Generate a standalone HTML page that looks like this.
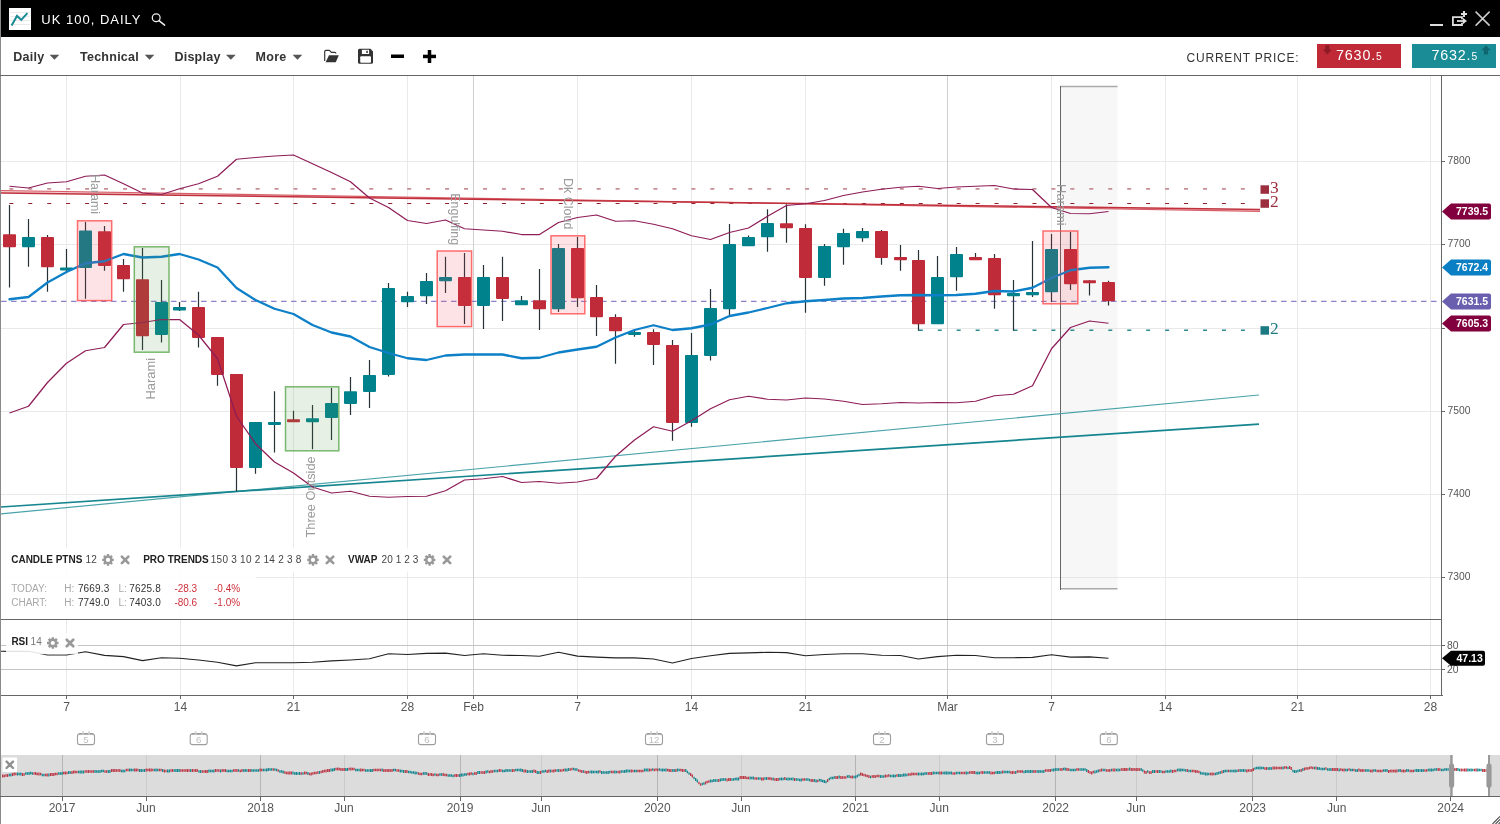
<!DOCTYPE html>
<html><head><meta charset="utf-8"><title>UK 100, DAILY</title>
<style>
html,body{margin:0;padding:0;background:#fff;}
body{width:1500px;height:824px;overflow:hidden;position:relative;font-family:"Liberation Sans",sans-serif;}
#tb{position:absolute;left:0;top:0;width:1500px;height:37px;background:#000;}
#tb .ttl{position:absolute;left:41.3px;top:11.5px;color:#fff;font-size:13px;letter-spacing:1.0px;line-height:16px;white-space:nowrap;}
#bar{position:absolute;left:0;top:37px;width:1500px;height:38px;background:#fff;}
.m{position:absolute;top:12px;font-weight:bold;font-size:12.5px;color:#333;line-height:16px;white-space:nowrap;letter-spacing:0.25px}
.arr{position:absolute;top:17.7px;width:0;height:0;border-left:4.9px solid transparent;border-right:4.9px solid transparent;border-top:5px solid #555;}
.cp{position:absolute;left:1186.5px;top:13px;font-size:12px;letter-spacing:0.8px;color:#333;line-height:16px;white-space:nowrap}
.pb{position:absolute;top:7px;height:24px;color:#fff;font-size:14.3px;line-height:24px;white-space:nowrap;letter-spacing:0.85px}
.pb small{font-size:10.3px;letter-spacing:0}
</style></head><body>
<div id="tb"><div class="ttl">UK 100, DAILY</div></div>
<div id="bar">
<div class="m" style="left:13.3px">Daily</div>
<div class="m" style="left:80px">Technical</div>
<div class="m" style="left:174.4px">Display</div>
<div class="m" style="left:255.6px">More</div>
<div class="cp">CURRENT PRICE:</div>
<div class="pb" style="left:1317px;width:84px;background:#c02a37"><span style="position:absolute;left:19px;top:-0.8px">7630.<small>5</small></span></div>
<div class="pb" style="left:1412px;width:84px;background:#1a8c96"><span style="position:absolute;left:19.4px;top:-0.8px">7632.<small>5</small></span></div>
</div>
<svg width="1500" height="76" viewBox="0 0 1500 76" style="position:absolute;left:0;top:0">
<rect x="9" y="8" width="22" height="22" fill="#fff"/>
<path d="M10,12.5h20M10,16.5h20M10,20.5h20M10,24.5h20" stroke="#e4e4e4" stroke-width="0.8"/>
<path d="M11.6,25.4 L17,15.9 L21.3,19.9 L27.4,13.2" fill="none" stroke="#1a8a94" stroke-width="2" stroke-linejoin="miter"/>
<circle cx="156.2" cy="17.8" r="3.9" fill="none" stroke="#eee" stroke-width="1.25"/><path d="M159,20.6 L164.6,25.1" stroke="#eee" stroke-width="1.5" stroke-linecap="round"/>
<rect x="1430" y="24" width="13" height="2" fill="#ddd"/>
<path d="M1462,19.3 V17.1 H1452.9 V25 H1462 V22.7" fill="none" stroke="#ddd" stroke-width="1.8"/>
<path d="M1457,21 h6.5" stroke="#ddd" stroke-width="1.8"/><path d="M1462.8,17.8 l4.2,3.2 l-4.2,3.2z" fill="#ddd"/>
<path d="M1464,10.9 v6 M1461,13.9 h6" stroke="#ddd" stroke-width="2"/>
<path d="M1475.6,11.6 L1489.6,25.6 M1489.6,11.6 L1475.6,25.6" stroke="#ccc" stroke-width="1.5"/>
<path d="M49.6,54.7 h9.7 l-4.85,5.1z" fill="#555"/><path d="M144.7,54.7 h9.7 l-4.85,5.1z" fill="#555"/><path d="M226,54.7 h9.7 l-4.85,5.1z" fill="#555"/><path d="M292.6,54.7 h9.7 l-4.85,5.1z" fill="#555"/>
<!-- folder -->
<path d="M324.7,61 V51.6 q0,-1.3 1.3,-1.3 h3.3 l2.2,2.1 h3.3 q1.1,0 1.1,1.2" fill="none" stroke="#333" stroke-width="1.15"/>
<path d="M329,55.2 h9.8 l-3,7.1 h-10.2z" fill="#333"/>
<!-- save -->
<path d="M359.5,48.7 h11 l2.5,2.8 v10.8 q0,1.5 -1.5,1.5 h-12 q-1.5,0 -1.5,-1.5 v-12.1 q0,-1.5 1.5,-1.5z" fill="#333"/>
<rect x="361.9" y="49.8" width="7.2" height="4.2" fill="#fff"/><rect x="366.3" y="50.8" width="1.5" height="2.2" fill="#333"/>
<rect x="360.2" y="56.2" width="10.8" height="6.6" rx="1" fill="#fff"/>
<rect x="391" y="54.5" width="13" height="3.5" fill="#000"/>
<rect x="423" y="54.7" width="13" height="3.5" fill="#000"/><rect x="427.75" y="50" width="3.5" height="13" fill="#000"/>
<path d="M1325.2,45.2 h4.2 v4.2 h2.4 l-4.5,5 l-4.5,-5 h2.4z" fill="#8e1a25"/>
<path d="M1483.9,54.6 h4.2 v-4.4 h2.5 l-4.6,-5 l-4.6,5 h2.5z" fill="#0e666e"/>
</svg>
<svg width="1500" height="824" viewBox="0 0 1500 824" style="position:absolute;left:0;top:0" font-family="Liberation Sans, sans-serif">
<g stroke="#e9e9e9" stroke-width="1" shape-rendering="crispEdges">
<line x1="1" y1="161.5" x2="1442" y2="161.5"/>
<line x1="1" y1="244.5" x2="1442" y2="244.5"/>
<line x1="1" y1="328.5" x2="1442" y2="328.5"/>
<line x1="1" y1="411.5" x2="1442" y2="411.5"/>
<line x1="1" y1="494.5" x2="1442" y2="494.5"/>
<line x1="1" y1="577.5" x2="1442" y2="577.5"/>
<line x1="66.5" y1="76" x2="66.5" y2="695"/>
<line x1="180.5" y1="76" x2="180.5" y2="695"/>
<line x1="293.5" y1="76" x2="293.5" y2="695"/>
<line x1="407.5" y1="76" x2="407.5" y2="695"/>
<line x1="577.5" y1="76" x2="577.5" y2="695"/>
<line x1="691.5" y1="76" x2="691.5" y2="695"/>
<line x1="805.5" y1="76" x2="805.5" y2="695"/>
<line x1="1051.5" y1="76" x2="1051.5" y2="695"/>
<line x1="1165.5" y1="76" x2="1165.5" y2="695"/>
<line x1="1297.5" y1="76" x2="1297.5" y2="695"/>
<line x1="1430.5" y1="76" x2="1430.5" y2="695"/>
</g>
<g stroke="#cfcfcf" stroke-width="1" shape-rendering="crispEdges">
<line x1="473.5" y1="76" x2="473.5" y2="695"/>
<line x1="947.5" y1="76" x2="947.5" y2="695"/>
</g>
<rect x="1061" y="86" width="56.5" height="503" fill="#f7f7f7"/>
<line x1="1060.5" y1="86.5" x2="1117.5" y2="86.5" stroke="#aaa" stroke-width="1.6"/>
<line x1="1060.5" y1="588.8" x2="1117.5" y2="588.8" stroke="#aaa" stroke-width="1.4"/>
<rect x="1060" y="86" width="1" height="503.5" fill="#666" shape-rendering="crispEdges"/>
<g stroke="#e6e6e6" stroke-width="1" shape-rendering="crispEdges">
<line x1="1061" y1="161.5" x2="1117.5" y2="161.5"/>
<line x1="1061" y1="244.5" x2="1117.5" y2="244.5"/>
<line x1="1061" y1="328.5" x2="1117.5" y2="328.5"/>
<line x1="1061" y1="411.5" x2="1117.5" y2="411.5"/>
<line x1="1061" y1="494.5" x2="1117.5" y2="494.5"/>
<line x1="1061" y1="577.5" x2="1117.5" y2="577.5"/>
</g>
<g stroke="#c4c4c4" stroke-width="1" shape-rendering="crispEdges"><line x1="1" y1="645.5" x2="1442" y2="645.5"/><line x1="1" y1="669.5" x2="1442" y2="669.5"/></g>
<line x1="1.1" y1="301.3" x2="1436.5" y2="301.3" stroke="#8a80cb" stroke-width="1.3" stroke-dasharray="5.4 4.6"/>
<line x1="9.3" y1="188.9" x2="1247" y2="188.9" stroke="#c68f95" stroke-width="1.9" stroke-dasharray="4 14.947" stroke-dashoffset="0"/>
<line x1="9.3" y1="203.55" x2="1247" y2="203.55" stroke="#8e1f2d" stroke-width="1.1" stroke-dasharray="4 14.947"/>
<line x1="918.8" y1="330.3" x2="1247" y2="330.3" stroke="#2a8c92" stroke-width="1.5" stroke-dasharray="4 14.947"/>
<polygon points="1,190.5 1260,211.3 1260,209.5 1,193" fill="rgba(215,80,90,0.3)"/>
<line x1="1" y1="190.5" x2="1260" y2="211.3" stroke="#d75c66" stroke-width="1.2"/>
<line x1="1" y1="193" x2="1260" y2="209.5" stroke="#c0313d" stroke-width="1.5"/>
<line x1="1" y1="513.8" x2="1259" y2="395" stroke="#4aa3aa" stroke-width="1.2"/>
<line x1="1" y1="507" x2="1259" y2="424.2" stroke="#15858f" stroke-width="1.7"/>
<g>
<rect x="8.9" y="205.00" width="1.2" height="82.50" fill="#263238"/>
<rect x="3.0" y="234.25" width="13" height="12.90" rx="0.8" fill="#bf2b38"/>
<rect x="27.9" y="219.00" width="1.2" height="47.75" fill="#263238"/>
<rect x="22.0" y="237.00" width="13" height="10.15" rx="0.8" fill="#00828c"/>
<rect x="46.9" y="235.00" width="1.2" height="56.75" fill="#263238"/>
<rect x="41.0" y="237.00" width="13" height="30.15" rx="0.8" fill="#bf2b38"/>
<rect x="65.9" y="249.00" width="1.2" height="22.00" fill="#263238"/>
<rect x="60.0" y="267.50" width="13" height="2.90" rx="0.8" fill="#00828c"/>
<rect x="84.9" y="222.00" width="1.2" height="76.75" fill="#263238"/>
<rect x="79.0" y="230.50" width="13" height="37.40" rx="0.8" fill="#00828c"/>
<rect x="103.9" y="226.00" width="1.2" height="44.75" fill="#263238"/>
<rect x="98.0" y="231.25" width="13" height="34.65" rx="0.8" fill="#bf2b38"/>
<rect x="122.9" y="259.00" width="1.2" height="32.75" fill="#263238"/>
<rect x="117.0" y="265.00" width="13" height="14.15" rx="0.8" fill="#bf2b38"/>
<rect x="141.9" y="248.00" width="1.2" height="102.00" fill="#263238"/>
<rect x="136.0" y="279.25" width="13" height="56.90" rx="0.8" fill="#bf2b38"/>
<rect x="160.9" y="280.00" width="1.2" height="62.50" fill="#263238"/>
<rect x="155.0" y="302.00" width="13" height="32.90" rx="0.8" fill="#00828c"/>
<rect x="178.9" y="302.00" width="1.2" height="9.00" fill="#263238"/>
<rect x="173.0" y="307.00" width="13" height="3.40" rx="0.8" fill="#00828c"/>
<rect x="197.9" y="291.75" width="1.2" height="55.75" fill="#263238"/>
<rect x="192.0" y="307.00" width="13" height="30.90" rx="0.8" fill="#bf2b38"/>
<rect x="216.9" y="337.00" width="1.2" height="48.75" fill="#263238"/>
<rect x="211.0" y="337.00" width="13" height="37.90" rx="0.8" fill="#bf2b38"/>
<rect x="235.9" y="374.00" width="1.2" height="117.25" fill="#263238"/>
<rect x="230.0" y="374.00" width="13" height="93.90" rx="0.8" fill="#bf2b38"/>
<rect x="254.9" y="422.00" width="1.2" height="51.75" fill="#263238"/>
<rect x="249.0" y="422.00" width="13" height="45.90" rx="0.8" fill="#00828c"/>
<rect x="273.9" y="391.25" width="1.2" height="61.25" fill="#263238"/>
<rect x="268.0" y="422.00" width="13" height="2.90" rx="0.8" fill="#00828c"/>
<rect x="292.9" y="410.75" width="1.2" height="11.00" fill="#263238"/>
<rect x="287.0" y="419.25" width="13" height="2.90" rx="0.8" fill="#bf2b38"/>
<rect x="311.9" y="405.00" width="1.2" height="44.25" fill="#263238"/>
<rect x="306.0" y="418.25" width="13" height="3.90" rx="0.8" fill="#00828c"/>
<rect x="330.9" y="388.00" width="1.2" height="52.00" fill="#263238"/>
<rect x="325.0" y="403.00" width="13" height="14.90" rx="0.8" fill="#00828c"/>
<rect x="349.9" y="377.00" width="1.2" height="38.00" fill="#263238"/>
<rect x="344.0" y="391.25" width="13" height="12.65" rx="0.8" fill="#00828c"/>
<rect x="368.9" y="360.00" width="1.2" height="48.00" fill="#263238"/>
<rect x="363.0" y="375.00" width="13" height="16.90" rx="0.8" fill="#00828c"/>
<rect x="387.9" y="283.00" width="1.2" height="93.50" fill="#263238"/>
<rect x="382.0" y="288.00" width="13" height="86.90" rx="0.8" fill="#00828c"/>
<rect x="406.9" y="291.75" width="1.2" height="15.25" fill="#263238"/>
<rect x="401.0" y="296.00" width="13" height="6.15" rx="0.8" fill="#00828c"/>
<rect x="425.9" y="273.00" width="1.2" height="31.00" fill="#263238"/>
<rect x="420.0" y="281.00" width="13" height="15.15" rx="0.8" fill="#00828c"/>
<rect x="444.9" y="256.75" width="1.2" height="36.25" fill="#263238"/>
<rect x="439.0" y="277.00" width="13" height="4.15" rx="0.8" fill="#00828c"/>
<rect x="463.9" y="253.00" width="1.2" height="71.00" fill="#263238"/>
<rect x="458.0" y="277.00" width="13" height="28.90" rx="0.8" fill="#bf2b38"/>
<rect x="482.9" y="265.00" width="1.2" height="64.00" fill="#263238"/>
<rect x="477.0" y="277.00" width="13" height="28.90" rx="0.8" fill="#00828c"/>
<rect x="501.9" y="256.75" width="1.2" height="64.25" fill="#263238"/>
<rect x="496.0" y="277.00" width="13" height="21.90" rx="0.8" fill="#bf2b38"/>
<rect x="520.9" y="296.00" width="1.2" height="9.00" fill="#263238"/>
<rect x="515.0" y="300.25" width="13" height="4.90" rx="0.8" fill="#00828c"/>
<rect x="538.9" y="269.00" width="1.2" height="61.00" fill="#263238"/>
<rect x="533.0" y="300.25" width="13" height="8.90" rx="0.8" fill="#bf2b38"/>
<rect x="557.9" y="244.00" width="1.2" height="68.00" fill="#263238"/>
<rect x="552.0" y="248.00" width="13" height="61.15" rx="0.8" fill="#00828c"/>
<rect x="576.9" y="237.00" width="1.2" height="70.00" fill="#263238"/>
<rect x="571.0" y="248.00" width="13" height="50.15" rx="0.8" fill="#bf2b38"/>
<rect x="595.9" y="285.00" width="1.2" height="51.00" fill="#263238"/>
<rect x="590.0" y="297.00" width="13" height="20.15" rx="0.8" fill="#bf2b38"/>
<rect x="614.9" y="314.25" width="1.2" height="49.50" fill="#263238"/>
<rect x="609.0" y="317.00" width="13" height="14.15" rx="0.8" fill="#bf2b38"/>
<rect x="633.9" y="330.00" width="1.2" height="6.75" fill="#263238"/>
<rect x="628.0" y="332.00" width="13" height="2.90" rx="0.8" fill="#00828c"/>
<rect x="652.9" y="329.25" width="1.2" height="35.75" fill="#263238"/>
<rect x="647.0" y="332.00" width="13" height="12.90" rx="0.8" fill="#bf2b38"/>
<rect x="671.9" y="340.00" width="1.2" height="100.75" fill="#263238"/>
<rect x="666.0" y="345.00" width="13" height="77.90" rx="0.8" fill="#bf2b38"/>
<rect x="690.9" y="333.00" width="1.2" height="93.75" fill="#263238"/>
<rect x="685.0" y="355.00" width="13" height="67.90" rx="0.8" fill="#00828c"/>
<rect x="709.9" y="289.00" width="1.2" height="71.50" fill="#263238"/>
<rect x="704.0" y="308.00" width="13" height="47.90" rx="0.8" fill="#00828c"/>
<rect x="728.9" y="224.00" width="1.2" height="91.75" fill="#263238"/>
<rect x="723.0" y="244.00" width="13" height="65.15" rx="0.8" fill="#00828c"/>
<rect x="747.9" y="235.50" width="1.2" height="10.25" fill="#263238"/>
<rect x="742.0" y="237.00" width="13" height="9.15" rx="0.8" fill="#00828c"/>
<rect x="766.9" y="209.25" width="1.2" height="42.50" fill="#263238"/>
<rect x="761.0" y="223.00" width="13" height="14.15" rx="0.8" fill="#00828c"/>
<rect x="785.9" y="204.25" width="1.2" height="38.50" fill="#263238"/>
<rect x="780.0" y="223.25" width="13" height="4.90" rx="0.8" fill="#bf2b38"/>
<rect x="804.9" y="224.25" width="1.2" height="88.50" fill="#263238"/>
<rect x="799.0" y="228.00" width="13" height="49.90" rx="0.8" fill="#bf2b38"/>
<rect x="823.9" y="244.00" width="1.2" height="41.75" fill="#263238"/>
<rect x="818.0" y="246.00" width="13" height="31.90" rx="0.8" fill="#00828c"/>
<rect x="842.9" y="228.75" width="1.2" height="36.00" fill="#263238"/>
<rect x="837.0" y="233.00" width="13" height="14.15" rx="0.8" fill="#00828c"/>
<rect x="861.9" y="228.00" width="1.2" height="13.75" fill="#263238"/>
<rect x="856.0" y="231.00" width="13" height="7.15" rx="0.8" fill="#00828c"/>
<rect x="880.9" y="230.00" width="1.2" height="34.75" fill="#263238"/>
<rect x="875.0" y="231.00" width="13" height="26.90" rx="0.8" fill="#bf2b38"/>
<rect x="899.9" y="245.00" width="1.2" height="25.75" fill="#263238"/>
<rect x="894.0" y="257.00" width="13" height="3.15" rx="0.8" fill="#bf2b38"/>
<rect x="917.9" y="250.00" width="1.2" height="80.75" fill="#263238"/>
<rect x="912.0" y="260.00" width="13" height="64.15" rx="0.8" fill="#bf2b38"/>
<rect x="936.9" y="256.00" width="1.2" height="67.75" fill="#263238"/>
<rect x="931.0" y="277.00" width="13" height="47.15" rx="0.8" fill="#00828c"/>
<rect x="955.9" y="247.00" width="1.2" height="43.75" fill="#263238"/>
<rect x="950.0" y="254.00" width="13" height="23.15" rx="0.8" fill="#00828c"/>
<rect x="974.9" y="253.00" width="1.2" height="6.75" fill="#263238"/>
<rect x="969.0" y="257.00" width="13" height="3.15" rx="0.8" fill="#bf2b38"/>
<rect x="993.9" y="254.00" width="1.2" height="54.75" fill="#263238"/>
<rect x="988.0" y="258.00" width="13" height="37.15" rx="0.8" fill="#bf2b38"/>
<rect x="1012.9" y="280.00" width="1.2" height="50.75" fill="#263238"/>
<rect x="1007.0" y="293.00" width="13" height="3.15" rx="0.8" fill="#00828c"/>
<rect x="1031.9" y="241.00" width="1.2" height="56.00" fill="#263238"/>
<rect x="1026.0" y="292.00" width="13" height="3.15" rx="0.8" fill="#00828c"/>
<rect x="1050.9" y="234.00" width="1.2" height="68.00" fill="#263238"/>
<rect x="1045.0" y="249.00" width="13" height="43.15" rx="0.8" fill="#00828c"/>
<rect x="1069.9" y="232.00" width="1.2" height="58.00" fill="#263238"/>
<rect x="1064.0" y="249.00" width="13" height="35.15" rx="0.8" fill="#bf2b38"/>
<rect x="1088.9" y="280.25" width="1.2" height="15.25" fill="#263238"/>
<rect x="1083.0" y="280.25" width="13" height="2.90" rx="0.8" fill="#bf2b38"/>
<rect x="1107.9" y="280.75" width="1.2" height="24.75" fill="#263238"/>
<rect x="1102.0" y="282.00" width="13" height="19.15" rx="0.8" fill="#bf2b38"/>
</g>
<polyline points="9.5,186.25 28.5,188.00 47.5,183.00 66.5,181.75 85.5,176.25 104.5,175.00 123.5,183.75 142.5,193.00 161.5,194.50 179.5,188.75 198.5,183.75 217.5,176.25 236.5,159.25 255.5,157.50 274.5,156.00 293.5,155.00 312.5,163.75 331.5,172.50 350.5,181.75 369.5,198.00 388.5,207.50 407.5,220.50 426.5,223.50 445.5,220.00 464.5,228.75 483.5,230.00 502.5,231.25 521.5,234.50 539.5,234.50 558.5,222.50 577.5,217.50 596.5,215.00 615.5,221.25 634.5,220.75 653.5,224.25 672.5,228.75 691.5,235.75 710.5,239.50 729.5,232.50 748.5,228.00 767.5,216.25 786.5,205.50 805.5,203.75 824.5,200.50 843.5,195.50 862.5,192.00 881.5,189.25 900.5,187.25 918.5,186.25 937.5,188.50 956.5,187.00 975.5,186.25 994.5,185.50 1013.5,189.00 1032.5,189.50 1051.5,207.50 1070.5,213.50 1089.5,213.75 1108.5,211.50" fill="none" stroke="#8e1c57" stroke-width="1.25" stroke-linejoin="round"/>
<polyline points="9.5,413.00 28.5,406.25 47.5,382.50 66.5,363.25 85.5,350.75 104.5,347.50 123.5,324.50 142.5,322.50 161.5,319.50 179.5,319.50 198.5,335.00 217.5,358.75 236.5,416.25 255.5,443.75 274.5,462.00 293.5,473.00 312.5,487.00 331.5,493.00 350.5,491.25 369.5,496.25 388.5,497.25 407.5,496.50 426.5,496.25 445.5,490.75 464.5,480.00 483.5,478.75 502.5,476.50 521.5,482.50 539.5,481.50 558.5,483.25 577.5,482.00 596.5,478.50 615.5,456.25 634.5,440.00 653.5,426.75 672.5,431.25 691.5,420.75 710.5,408.75 729.5,399.75 748.5,396.25 767.5,399.25 786.5,400.00 805.5,398.00 824.5,399.00 843.5,401.25 862.5,404.50 881.5,403.75 900.5,402.50 918.5,403.00 937.5,402.50 956.5,402.75 975.5,401.25 994.5,395.75 1013.5,394.25 1032.5,385.75 1051.5,348.75 1070.5,327.50 1089.5,321.00 1108.5,323.25" fill="none" stroke="#8e1c57" stroke-width="1.25" stroke-linejoin="round"/>
<polyline points="9.5,299.25 28.5,297.00 47.5,282.50 66.5,272.00 85.5,263.25 104.5,261.25 123.5,254.00 142.5,257.50 161.5,256.75 179.5,254.00 198.5,259.50 217.5,267.50 236.5,288.00 255.5,300.00 274.5,308.75 293.5,314.00 312.5,325.00 331.5,332.50 350.5,336.50 369.5,347.00 388.5,353.00 407.5,358.25 426.5,360.00 445.5,355.50 464.5,354.50 483.5,354.50 502.5,354.50 521.5,358.25 539.5,357.75 558.5,352.50 577.5,349.50 596.5,346.75 615.5,337.50 634.5,330.00 653.5,325.25 672.5,330.00 691.5,328.25 710.5,324.50 729.5,316.00 748.5,312.50 767.5,308.00 786.5,303.25 805.5,301.25 824.5,300.00 843.5,298.50 862.5,298.00 881.5,296.50 900.5,295.25 918.5,295.00 937.5,295.25 956.5,295.00 975.5,293.75 994.5,291.00 1013.5,291.50 1032.5,287.75 1051.5,278.00 1070.5,270.25 1089.5,267.75 1108.5,267.25" fill="none" stroke="#0d80c8" stroke-width="2.3" stroke-linejoin="round" stroke-linecap="round"/>
<rect x="77.5" y="220.8" width="34.2" height="79.8" fill="rgba(241,68,82,0.15)" stroke="rgba(255,75,75,0.8)" stroke-width="1.5"/>
<rect x="437.2" y="251" width="34.4" height="75.6" fill="rgba(241,68,82,0.15)" stroke="rgba(255,75,75,0.8)" stroke-width="1.5"/>
<rect x="551" y="235.8" width="33.8" height="78.0" fill="rgba(241,68,82,0.15)" stroke="rgba(255,75,75,0.8)" stroke-width="1.5"/>
<rect x="1043" y="231" width="34.8" height="72.8" fill="rgba(241,68,82,0.15)" stroke="rgba(255,75,75,0.8)" stroke-width="1.5"/>
<rect x="134.3" y="246.8" width="34.7" height="105.4" fill="rgba(88,155,75,0.15)" stroke="rgba(100,172,88,0.85)" stroke-width="1.5"/>
<rect x="285.5" y="386.8" width="53.3" height="64.0" fill="rgba(88,155,75,0.15)" stroke="rgba(100,172,88,0.85)" stroke-width="1.5"/>
<text transform="translate(90.6,174.2) rotate(90)" font-size="13" fill="#9a9a9a" textLength="39.8" lengthAdjust="spacingAndGlyphs">Harami</text>
<text transform="translate(450.8,193.3) rotate(90)" font-size="13" fill="#9a9a9a" textLength="51.8" lengthAdjust="spacingAndGlyphs">Engulfing</text>
<text transform="translate(563.5,178) rotate(90)" font-size="13" fill="#9a9a9a" textLength="51.5" lengthAdjust="spacingAndGlyphs">Dk Cloud</text>
<text transform="translate(1056.8,184.1) rotate(90)" font-size="13" fill="#9a9a9a" textLength="41.6" lengthAdjust="spacingAndGlyphs">Harami</text>
<text transform="translate(155.3,399.5) rotate(-90)" font-size="13" fill="#9a9a9a" textLength="41.5" lengthAdjust="spacingAndGlyphs">Harami</text>
<text transform="translate(315.3,537.5) rotate(-90)" font-size="13" fill="#9a9a9a" textLength="81.2" lengthAdjust="spacingAndGlyphs">Three Outside</text>
<rect x="1260.5" y="185.3" width="8.5" height="8.5" fill="#9c2f3f"/>
<text x="1270" y="193.3" font-family="Liberation Serif, serif" font-size="17.4" fill="#9c2f3f">3</text>
<rect x="1260.5" y="199.3" width="8.5" height="8.5" fill="#9c2f3f"/>
<text x="1270" y="207.3" font-family="Liberation Serif, serif" font-size="17.4" fill="#9c2f3f">2</text>
<rect x="1260.5" y="326.2" width="8.5" height="8.5" fill="#1c7a82"/>
<text x="1270" y="334.2" font-family="Liberation Serif, serif" font-size="17.4" fill="#1c7a82">2</text>
<rect x="1" y="547.5" width="455" height="25" fill="rgba(255,255,255,0.88)"/>
<rect x="1" y="572.5" width="255" height="46.5" fill="rgba(255,255,255,0.88)"/>
<polyline points="1,651.2 9.5,651.40 28.5,651.20 47.5,655.00 66.5,655.00 85.5,651.80 104.5,655.40 123.5,656.60 142.5,660.60 161.5,657.70 179.5,658.20 198.5,660.00 217.5,662.20 236.5,665.90 255.5,662.70 274.5,662.70 293.5,662.70 312.5,662.20 331.5,660.90 350.5,660.00 369.5,658.70 388.5,653.70 407.5,654.50 426.5,653.40 445.5,653.10 464.5,655.50 483.5,653.70 502.5,655.30 521.5,655.50 539.5,656.30 558.5,652.30 577.5,656.10 596.5,657.10 615.5,657.90 634.5,657.90 653.5,659.00 672.5,663.00 691.5,658.50 710.5,655.80 729.5,653.40 748.5,652.90 767.5,652.30 786.5,652.60 805.5,655.80 824.5,654.50 843.5,653.70 862.5,653.70 881.5,655.30 900.5,655.50 918.5,659.00 937.5,656.60 956.5,655.30 975.5,655.50 994.5,657.70 1013.5,657.70 1032.5,657.40 1051.5,654.70 1070.5,657.10 1089.5,656.90 1108.5,658.20" fill="none" stroke="#222" stroke-width="1.1" stroke-linejoin="round"/>
<rect x="6" y="633" width="72" height="21.2" fill="rgba(255,255,255,0.87)"/>
<path d="M112.20,558.60 L113.78,558.73 L113.78,561.07 L112.20,561.20 L111.89,561.95 L112.92,563.16 L111.26,564.82 L110.05,563.79 L109.30,564.10 L109.17,565.68 L106.83,565.68 L106.70,564.10 L105.95,563.79 L104.74,564.82 L103.08,563.16 L104.11,561.95 L103.80,561.20 L102.22,561.07 L102.22,558.73 L103.80,558.60 L104.11,557.85 L103.08,556.64 L104.74,554.98 L105.95,556.01 L106.70,555.70 L106.83,554.12 L109.17,554.12 L109.30,555.70 L110.05,556.01 L111.26,554.98 L112.92,556.64 L111.89,557.85Z M110.10,559.90 A2.1,2.1 0 1,0 105.90,559.90 A2.1,2.1 0 1,0 110.10,559.90Z" fill="#999" fill-rule="evenodd"/>
<path d="M121.85,556.65 L128.35,563.15 M128.35,556.65 L121.85,563.15" stroke="#999" stroke-width="2.7" stroke-linecap="round" fill="none"/>
<path d="M317.20,558.60 L318.78,558.73 L318.78,561.07 L317.20,561.20 L316.89,561.95 L317.92,563.16 L316.26,564.82 L315.05,563.79 L314.30,564.10 L314.17,565.68 L311.83,565.68 L311.70,564.10 L310.95,563.79 L309.74,564.82 L308.08,563.16 L309.11,561.95 L308.80,561.20 L307.22,561.07 L307.22,558.73 L308.80,558.60 L309.11,557.85 L308.08,556.64 L309.74,554.98 L310.95,556.01 L311.70,555.70 L311.83,554.12 L314.17,554.12 L314.30,555.70 L315.05,556.01 L316.26,554.98 L317.92,556.64 L316.89,557.85Z M315.10,559.90 A2.1,2.1 0 1,0 310.90,559.90 A2.1,2.1 0 1,0 315.10,559.90Z" fill="#999" fill-rule="evenodd"/>
<path d="M326.75,556.65 L333.25,563.15 M333.25,556.65 L326.75,563.15" stroke="#999" stroke-width="2.7" stroke-linecap="round" fill="none"/>
<path d="M433.80,558.60 L435.38,558.73 L435.38,561.07 L433.80,561.20 L433.49,561.95 L434.52,563.16 L432.86,564.82 L431.65,563.79 L430.90,564.10 L430.77,565.68 L428.43,565.68 L428.30,564.10 L427.55,563.79 L426.34,564.82 L424.68,563.16 L425.71,561.95 L425.40,561.20 L423.82,561.07 L423.82,558.73 L425.40,558.60 L425.71,557.85 L424.68,556.64 L426.34,554.98 L427.55,556.01 L428.30,555.70 L428.43,554.12 L430.77,554.12 L430.90,555.70 L431.65,556.01 L432.86,554.98 L434.52,556.64 L433.49,557.85Z M431.70,559.90 A2.1,2.1 0 1,0 427.50,559.90 A2.1,2.1 0 1,0 431.70,559.90Z" fill="#999" fill-rule="evenodd"/>
<path d="M443.75,556.65 L450.25,563.15 M450.25,556.65 L443.75,563.15" stroke="#999" stroke-width="2.7" stroke-linecap="round" fill="none"/>
<path d="M57.00,641.70 L58.58,641.83 L58.58,644.17 L57.00,644.30 L56.69,645.05 L57.72,646.26 L56.06,647.92 L54.85,646.89 L54.10,647.20 L53.97,648.78 L51.63,648.78 L51.50,647.20 L50.75,646.89 L49.54,647.92 L47.88,646.26 L48.91,645.05 L48.60,644.30 L47.02,644.17 L47.02,641.83 L48.60,641.70 L48.91,640.95 L47.88,639.74 L49.54,638.08 L50.75,639.11 L51.50,638.80 L51.63,637.22 L53.97,637.22 L54.10,638.80 L54.85,639.11 L56.06,638.08 L57.72,639.74 L56.69,640.95Z M54.90,643.00 A2.1,2.1 0 1,0 50.70,643.00 A2.1,2.1 0 1,0 54.90,643.00Z" fill="#999" fill-rule="evenodd"/>
<path d="M66.75,639.75 L73.25,646.25 M73.25,639.75 L66.75,646.25" stroke="#999" stroke-width="2.7" stroke-linecap="round" fill="none"/>
<text x="11.2" y="563" font-size="10" fill="#222" font-weight="bold" text-anchor="start" >CANDLE PTNS</text>
<text x="85.6" y="563" font-size="10" fill="#444" font-weight="normal" text-anchor="start" >12</text>
<text x="143.2" y="563" font-size="10" fill="#222" font-weight="bold" text-anchor="start" >PRO TRENDS</text>
<text x="210.8" y="563" font-size="10" fill="#444" font-weight="normal" text-anchor="start" textLength="90.6" lengthAdjust="spacing">150 3 10 2 14 2 3 8</text>
<text x="348" y="563" font-size="10" fill="#222" font-weight="bold" text-anchor="start" >VWAP</text>
<text x="381.6" y="563" font-size="10" fill="#444" font-weight="normal" text-anchor="start" textLength="36.8" lengthAdjust="spacing">20 1 2 3</text>
<text x="11.2" y="592.1" font-size="10" fill="#a8a8a8" font-weight="normal" text-anchor="start" >TODAY:</text>
<text x="64.3" y="592.1" font-size="10" fill="#a8a8a8" font-weight="normal" text-anchor="start" >H:</text>
<text x="77.9" y="592.1" font-size="10" fill="#333" font-weight="normal" text-anchor="start" textLength="31.4" lengthAdjust="spacing">7669.3</text>
<text x="118.4" y="592.1" font-size="10" fill="#a8a8a8" font-weight="normal" text-anchor="start" >L:</text>
<text x="129.3" y="592.1" font-size="10" fill="#333" font-weight="normal" text-anchor="start" textLength="31.4" lengthAdjust="spacing">7625.8</text>
<text x="174.4" y="592.1" font-size="10" fill="#d0313d" font-weight="normal" text-anchor="start" >-28.3</text>
<text x="214" y="592.1" font-size="10" fill="#d0313d" font-weight="normal" text-anchor="start" >-0.4%</text>
<text x="11.2" y="606.2" font-size="10" fill="#a8a8a8" font-weight="normal" text-anchor="start" >CHART:</text>
<text x="64.3" y="606.2" font-size="10" fill="#a8a8a8" font-weight="normal" text-anchor="start" >H:</text>
<text x="77.9" y="606.2" font-size="10" fill="#333" font-weight="normal" text-anchor="start" textLength="31.4" lengthAdjust="spacing">7749.0</text>
<text x="118.4" y="606.2" font-size="10" fill="#a8a8a8" font-weight="normal" text-anchor="start" >L:</text>
<text x="129.3" y="606.2" font-size="10" fill="#333" font-weight="normal" text-anchor="start" textLength="31.4" lengthAdjust="spacing">7403.0</text>
<text x="174.4" y="606.2" font-size="10" fill="#d0313d" font-weight="normal" text-anchor="start" >-80.6</text>
<text x="214" y="606.2" font-size="10" fill="#d0313d" font-weight="normal" text-anchor="start" >-1.0%</text>
<text x="11.4" y="644.7" font-size="10" fill="#222" font-weight="bold" text-anchor="start" >RSI</text>
<text x="30.6" y="644.7" font-size="10" fill="#777" font-weight="normal" text-anchor="start" >14</text>
<g fill="#666" shape-rendering="crispEdges">
<rect x="0" y="0" width="1.3" height="824" fill="#8a8a8a"/>
<rect x="0" y="75" width="1500" height="1" fill="#666"/>
<rect x="1441" y="76" width="1" height="620"/>
<rect x="1" y="619" width="1441" height="1"/>
<rect x="1" y="695" width="1441.5" height="1"/>
<rect x="1442" y="161.0" width="3" height="1"/>
<rect x="1442" y="244.0" width="3" height="1"/>
<rect x="1442" y="328.0" width="3" height="1"/>
<rect x="1442" y="411.0" width="3" height="1"/>
<rect x="1442" y="494.0" width="3" height="1"/>
<rect x="1442" y="577.0" width="3" height="1"/>
<rect x="1442" y="645.0" width="3" height="1"/>
<rect x="1442" y="669.0" width="3" height="1"/>
<rect x="66.0" y="696" width="1" height="3"/>
<rect x="180.0" y="696" width="1" height="3"/>
<rect x="293.0" y="696" width="1" height="3"/>
<rect x="407.0" y="696" width="1" height="3"/>
<rect x="577.0" y="696" width="1" height="3"/>
<rect x="691.0" y="696" width="1" height="3"/>
<rect x="805.0" y="696" width="1" height="3"/>
<rect x="1051.0" y="696" width="1" height="3"/>
<rect x="1165.0" y="696" width="1" height="3"/>
<rect x="1297.0" y="696" width="1" height="3"/>
<rect x="1430.0" y="696" width="1" height="3"/>
<rect x="473.0" y="696" width="1" height="3"/>
<rect x="947.0" y="696" width="1" height="3"/>
</g>
<text x="1447.5" y="164.3" font-size="10.3" fill="#555" font-weight="normal" text-anchor="start" >7800</text>
<text x="1447.5" y="247.3" font-size="10.3" fill="#555" font-weight="normal" text-anchor="start" >7700</text>
<text x="1447.5" y="414.3" font-size="10.3" fill="#555" font-weight="normal" text-anchor="start" >7500</text>
<text x="1447.5" y="497.3" font-size="10.3" fill="#555" font-weight="normal" text-anchor="start" >7400</text>
<text x="1447.5" y="580.3" font-size="10.3" fill="#555" font-weight="normal" text-anchor="start" >7300</text>
<text x="1447" y="648.6" font-size="10.3" fill="#555" font-weight="normal" text-anchor="start" >80</text>
<text x="1447" y="672.6" font-size="10.3" fill="#555" font-weight="normal" text-anchor="start" >20</text>
<text x="66.5" y="711.3" font-size="12" fill="#555" font-weight="normal" text-anchor="middle" >7</text>
<text x="180.5" y="711.3" font-size="12" fill="#555" font-weight="normal" text-anchor="middle" >14</text>
<text x="293.5" y="711.3" font-size="12" fill="#555" font-weight="normal" text-anchor="middle" >21</text>
<text x="407.5" y="711.3" font-size="12" fill="#555" font-weight="normal" text-anchor="middle" >28</text>
<text x="473.5" y="711.3" font-size="12" fill="#555" font-weight="normal" text-anchor="middle" >Feb</text>
<text x="577.5" y="711.3" font-size="12" fill="#555" font-weight="normal" text-anchor="middle" >7</text>
<text x="691.5" y="711.3" font-size="12" fill="#555" font-weight="normal" text-anchor="middle" >14</text>
<text x="805.5" y="711.3" font-size="12" fill="#555" font-weight="normal" text-anchor="middle" >21</text>
<text x="947.5" y="711.3" font-size="12" fill="#555" font-weight="normal" text-anchor="middle" >Mar</text>
<text x="1051.5" y="711.3" font-size="12" fill="#555" font-weight="normal" text-anchor="middle" >7</text>
<text x="1165.5" y="711.3" font-size="12" fill="#555" font-weight="normal" text-anchor="middle" >14</text>
<text x="1297.5" y="711.3" font-size="12" fill="#555" font-weight="normal" text-anchor="middle" >21</text>
<text x="1430.5" y="711.3" font-size="12" fill="#555" font-weight="normal" text-anchor="middle" >28</text>
<path d="M1442,211.5 L1451,203.5 L1489,203.5 Q1491,203.5 1491,205.5 L1491,217.5 Q1491,219.5 1489,219.5 L1451,219.5 Z" fill="#83003e"/>
<text x="1456" y="215.2" font-size="10.5" font-weight="bold" fill="#fff">7739.5</text>
<path d="M1442,267.5 L1451,259.5 L1489,259.5 Q1491,259.5 1491,261.5 L1491,273.5 Q1491,275.5 1489,275.5 L1451,275.5 Z" fill="#0b7fc3"/>
<text x="1456" y="271.2" font-size="10.5" font-weight="bold" fill="#fff">7672.4</text>
<path d="M1442,301.5 L1451,293.5 L1489,293.5 Q1491,293.5 1491,295.5 L1491,307.5 Q1491,309.5 1489,309.5 L1451,309.5 Z" fill="#6a5fae"/>
<text x="1456" y="305.2" font-size="10.5" font-weight="bold" fill="#fff">7631.5</text>
<path d="M1442,323.5 L1451,315.5 L1489,315.5 Q1491,315.5 1491,317.5 L1491,329.5 Q1491,331.5 1489,331.5 L1451,331.5 Z" fill="#83003e"/>
<text x="1456" y="327.2" font-size="10.5" font-weight="bold" fill="#fff">7605.3</text>
<path d="M1442,658.3 L1451,650.8 L1483,650.8 Q1485,650.8 1485,652.8 L1485,663.8 Q1485,665.8 1483,665.8 L1451,665.8 Z" fill="#000"/>
<text x="1456.5" y="662.0" font-size="10.5" font-weight="bold" fill="#fff">47.13</text>
<rect x="77.5" y="733.8" width="17" height="10.8" rx="2.4" fill="#fff" stroke="#9d9d9d" stroke-width="1.1"/>
<line x1="79" y1="733.9" x2="93" y2="733.9" stroke="#999" stroke-width="1.6"/>
<rect x="82.2" y="731.3" width="1.6" height="3.6" fill="#ccc"/><rect x="88.2" y="731.3" width="1.6" height="3.6" fill="#ccc"/>
<text x="86" y="742.6" font-size="9.6" fill="#bdbdbd" text-anchor="middle">5</text>
<rect x="190.2" y="733.8" width="17" height="10.8" rx="2.4" fill="#fff" stroke="#9d9d9d" stroke-width="1.1"/>
<line x1="191.7" y1="733.9" x2="205.7" y2="733.9" stroke="#999" stroke-width="1.6"/>
<rect x="194.89999999999998" y="731.3" width="1.6" height="3.6" fill="#ccc"/><rect x="200.89999999999998" y="731.3" width="1.6" height="3.6" fill="#ccc"/>
<text x="198.7" y="742.6" font-size="9.6" fill="#bdbdbd" text-anchor="middle">6</text>
<rect x="418.5" y="733.8" width="17" height="10.8" rx="2.4" fill="#fff" stroke="#9d9d9d" stroke-width="1.1"/>
<line x1="420" y1="733.9" x2="434" y2="733.9" stroke="#999" stroke-width="1.6"/>
<rect x="423.2" y="731.3" width="1.6" height="3.6" fill="#ccc"/><rect x="429.2" y="731.3" width="1.6" height="3.6" fill="#ccc"/>
<text x="427" y="742.6" font-size="9.6" fill="#bdbdbd" text-anchor="middle">6</text>
<rect x="645.5" y="733.8" width="17" height="10.8" rx="2.4" fill="#fff" stroke="#9d9d9d" stroke-width="1.1"/>
<line x1="647" y1="733.9" x2="661" y2="733.9" stroke="#999" stroke-width="1.6"/>
<rect x="650.2" y="731.3" width="1.6" height="3.6" fill="#ccc"/><rect x="656.2" y="731.3" width="1.6" height="3.6" fill="#ccc"/>
<text x="654" y="742.6" font-size="9.6" fill="#bdbdbd" text-anchor="middle">12</text>
<rect x="873.5" y="733.8" width="17" height="10.8" rx="2.4" fill="#fff" stroke="#9d9d9d" stroke-width="1.1"/>
<line x1="875" y1="733.9" x2="889" y2="733.9" stroke="#999" stroke-width="1.6"/>
<rect x="878.2" y="731.3" width="1.6" height="3.6" fill="#ccc"/><rect x="884.2" y="731.3" width="1.6" height="3.6" fill="#ccc"/>
<text x="882" y="742.6" font-size="9.6" fill="#bdbdbd" text-anchor="middle">2</text>
<rect x="986.5" y="733.8" width="17" height="10.8" rx="2.4" fill="#fff" stroke="#9d9d9d" stroke-width="1.1"/>
<line x1="988" y1="733.9" x2="1002" y2="733.9" stroke="#999" stroke-width="1.6"/>
<rect x="991.2" y="731.3" width="1.6" height="3.6" fill="#ccc"/><rect x="997.2" y="731.3" width="1.6" height="3.6" fill="#ccc"/>
<text x="995" y="742.6" font-size="9.6" fill="#bdbdbd" text-anchor="middle">3</text>
<rect x="1100.3" y="733.8" width="17" height="10.8" rx="2.4" fill="#fff" stroke="#9d9d9d" stroke-width="1.1"/>
<line x1="1101.8" y1="733.9" x2="1115.8" y2="733.9" stroke="#999" stroke-width="1.6"/>
<rect x="1105.0" y="731.3" width="1.6" height="3.6" fill="#ccc"/><rect x="1111.0" y="731.3" width="1.6" height="3.6" fill="#ccc"/>
<text x="1108.8" y="742.6" font-size="9.6" fill="#bdbdbd" text-anchor="middle">6</text>
<rect x="1" y="755" width="1499" height="41" fill="#dcdcdc"/>
<rect x="1452.5" y="755" width="36" height="41" fill="#fff"/>
<g shape-rendering="crispEdges">
<rect x="61.5" y="755" width="1" height="41" fill="#b5b5b5"/>
<rect x="260.0" y="755" width="1" height="41" fill="#b5b5b5"/>
<rect x="459.5" y="755" width="1" height="41" fill="#b5b5b5"/>
<rect x="656.8" y="755" width="1" height="41" fill="#b5b5b5"/>
<rect x="855.2" y="755" width="1" height="41" fill="#b5b5b5"/>
<rect x="1055.2" y="755" width="1" height="41" fill="#b5b5b5"/>
<rect x="1252.2" y="755" width="1" height="41" fill="#b5b5b5"/>
<rect x="1450.2" y="755" width="1" height="41" fill="#b5b5b5"/>
<rect x="145.5" y="755" width="1" height="41" fill="#cbcbcb"/>
<rect x="343.5" y="755" width="1" height="41" fill="#cbcbcb"/>
<rect x="540.5" y="755" width="1" height="41" fill="#cbcbcb"/>
<rect x="740.5" y="755" width="1" height="41" fill="#cbcbcb"/>
<rect x="938.8" y="755" width="1" height="41" fill="#cbcbcb"/>
<rect x="1135.5" y="755" width="1" height="41" fill="#cbcbcb"/>
<rect x="1336.2" y="755" width="1" height="41" fill="#cbcbcb"/>
<rect x="0" y="796" width="1500" height="1" fill="#666"/>
<rect x="61.5" y="797" width="1" height="4" fill="#666"/>
<rect x="260.0" y="797" width="1" height="4" fill="#666"/>
<rect x="459.5" y="797" width="1" height="4" fill="#666"/>
<rect x="656.8" y="797" width="1" height="4" fill="#666"/>
<rect x="855.2" y="797" width="1" height="4" fill="#666"/>
<rect x="1055.2" y="797" width="1" height="4" fill="#666"/>
<rect x="1252.2" y="797" width="1" height="4" fill="#666"/>
<rect x="1450.2" y="797" width="1" height="4" fill="#666"/>
<rect x="145.5" y="797" width="1" height="4" fill="#666"/>
<rect x="343.5" y="797" width="1" height="4" fill="#666"/>
<rect x="540.5" y="797" width="1" height="4" fill="#666"/>
<rect x="740.5" y="797" width="1" height="4" fill="#666"/>
<rect x="938.8" y="797" width="1" height="4" fill="#666"/>
<rect x="1135.5" y="797" width="1" height="4" fill="#666"/>
<rect x="1336.2" y="797" width="1" height="4" fill="#666"/>
</g>
<text x="62" y="812" font-size="12" fill="#555" font-weight="normal" text-anchor="middle" >2017</text>
<text x="260.5" y="812" font-size="12" fill="#555" font-weight="normal" text-anchor="middle" >2018</text>
<text x="460" y="812" font-size="12" fill="#555" font-weight="normal" text-anchor="middle" >2019</text>
<text x="657.3" y="812" font-size="12" fill="#555" font-weight="normal" text-anchor="middle" >2020</text>
<text x="855.7" y="812" font-size="12" fill="#555" font-weight="normal" text-anchor="middle" >2021</text>
<text x="1055.7" y="812" font-size="12" fill="#555" font-weight="normal" text-anchor="middle" >2022</text>
<text x="1252.7" y="812" font-size="12" fill="#555" font-weight="normal" text-anchor="middle" >2023</text>
<text x="1450.7" y="812" font-size="12" fill="#555" font-weight="normal" text-anchor="middle" >2024</text>
<text x="146" y="812" font-size="12" fill="#555" font-weight="normal" text-anchor="middle" >Jun</text>
<text x="344" y="812" font-size="12" fill="#555" font-weight="normal" text-anchor="middle" >Jun</text>
<text x="541" y="812" font-size="12" fill="#555" font-weight="normal" text-anchor="middle" >Jun</text>
<text x="741" y="812" font-size="12" fill="#555" font-weight="normal" text-anchor="middle" >Jun</text>
<text x="939.3" y="812" font-size="12" fill="#555" font-weight="normal" text-anchor="middle" >Jun</text>
<text x="1136" y="812" font-size="12" fill="#555" font-weight="normal" text-anchor="middle" >Jun</text>
<text x="1336.7" y="812" font-size="12" fill="#555" font-weight="normal" text-anchor="middle" >Jun</text>
<path d="M8.60,773.8h1.3v2.5h-1.3zM10.25,773.5h1.3v3h-1.3zM16.85,772.5h1.3v3h-1.3zM18.50,772.8h1.3v2.5h-1.3zM20.15,772.5h1.3v3h-1.3zM25.10,772.2h1.3v2.5h-1.3zM26.75,772.2h1.3v2.5h-1.3zM28.40,772.0h1.3v3h-1.3zM30.05,771.8h1.3v2.5h-1.3zM31.70,772.2h1.3v2.5h-1.3zM41.60,773.8h1.3v2.5h-1.3zM43.25,773.8h1.3v2.5h-1.3zM48.20,773.5h1.3v3h-1.3zM58.10,772.2h1.3v2.5h-1.3zM59.75,772.2h1.3v2.5h-1.3zM61.40,772.0h1.3v3h-1.3zM68.00,771.0h1.3v3h-1.3zM69.65,771.2h1.3v2.5h-1.3zM77.90,770.8h1.3v2.5h-1.3zM79.55,770.5h1.3v3h-1.3zM81.20,770.5h1.3v3h-1.3zM82.85,770.5h1.3v3h-1.3zM94.40,770.0h1.3v3h-1.3zM96.05,770.2h1.3v2.5h-1.3zM97.70,770.2h1.3v2.5h-1.3zM99.35,770.0h1.3v3h-1.3zM101.00,769.8h1.3v2.5h-1.3zM102.65,769.8h1.3v2.5h-1.3zM107.60,770.0h1.3v3h-1.3zM109.25,770.0h1.3v3h-1.3zM120.80,769.8h1.3v2.5h-1.3zM122.45,769.5h1.3v3h-1.3zM124.10,769.8h1.3v2.5h-1.3zM129.05,768.5h1.3v3h-1.3zM130.70,768.8h1.3v2.5h-1.3zM132.35,768.8h1.3v2.5h-1.3zM138.95,769.0h1.3v3h-1.3zM140.60,769.0h1.3v3h-1.3zM142.25,769.2h1.3v2.5h-1.3zM143.90,769.0h1.3v3h-1.3zM153.80,768.8h1.3v2.5h-1.3zM155.45,768.5h1.3v3h-1.3zM157.10,768.8h1.3v2.5h-1.3zM162.05,769.0h1.3v3h-1.3zM167.00,769.5h1.3v3h-1.3zM168.65,769.5h1.3v3h-1.3zM173.60,769.2h1.3v2.5h-1.3zM175.25,769.0h1.3v3h-1.3zM176.90,769.0h1.3v3h-1.3zM178.55,769.0h1.3v3h-1.3zM190.10,769.0h1.3v3h-1.3zM198.35,770.2h1.3v2.5h-1.3zM200.00,770.0h1.3v3h-1.3zM208.25,769.5h1.3v3h-1.3zM209.90,769.8h1.3v2.5h-1.3zM211.55,769.8h1.3v2.5h-1.3zM213.20,769.5h1.3v3h-1.3zM219.80,769.5h1.3v3h-1.3zM226.40,769.8h1.3v2.5h-1.3zM228.05,769.8h1.3v2.5h-1.3zM229.70,769.8h1.3v2.5h-1.3zM231.35,769.8h1.3v2.5h-1.3zM237.95,769.2h1.3v2.5h-1.3zM242.90,769.2h1.3v2.5h-1.3zM244.55,769.0h1.3v3h-1.3zM246.20,769.2h1.3v2.5h-1.3zM251.15,769.2h1.3v2.5h-1.3zM252.80,769.2h1.3v2.5h-1.3zM254.45,769.2h1.3v2.5h-1.3zM256.10,769.2h1.3v2.5h-1.3zM257.75,769.2h1.3v2.5h-1.3zM262.70,768.8h1.3v2.5h-1.3zM264.35,768.8h1.3v2.5h-1.3zM266.00,768.5h1.3v3h-1.3zM267.65,768.0h1.3v3h-1.3zM269.30,768.2h1.3v2.5h-1.3zM270.95,768.2h1.3v2.5h-1.3zM274.25,768.2h1.3v2.5h-1.3zM275.90,768.8h1.3v2.5h-1.3zM279.20,770.2h1.3v2.5h-1.3zM280.85,770.2h1.3v2.5h-1.3zM282.50,770.5h1.3v3h-1.3zM292.40,771.5h1.3v3h-1.3zM294.05,772.2h1.3v2.5h-1.3zM295.70,772.0h1.3v3h-1.3zM297.35,772.2h1.3v2.5h-1.3zM299.00,772.0h1.3v3h-1.3zM302.30,772.2h1.3v2.5h-1.3zM307.25,772.0h1.3v3h-1.3zM318.80,771.0h1.3v3h-1.3zM330.35,768.5h1.3v3h-1.3zM332.00,768.5h1.3v3h-1.3zM333.65,768.0h1.3v3h-1.3zM345.20,768.0h1.3v3h-1.3zM346.85,768.0h1.3v3h-1.3zM355.10,768.8h1.3v2.5h-1.3zM356.75,768.8h1.3v2.5h-1.3zM358.40,768.8h1.3v2.5h-1.3zM365.00,769.2h1.3v2.5h-1.3zM366.65,769.2h1.3v2.5h-1.3zM368.30,769.2h1.3v2.5h-1.3zM369.95,769.0h1.3v3h-1.3zM371.60,769.0h1.3v3h-1.3zM381.50,768.5h1.3v3h-1.3zM393.05,768.8h1.3v2.5h-1.3zM394.70,768.8h1.3v2.5h-1.3zM399.65,769.5h1.3v3h-1.3zM401.30,769.8h1.3v2.5h-1.3zM402.95,770.0h1.3v3h-1.3zM407.90,770.8h1.3v2.5h-1.3zM409.55,770.8h1.3v2.5h-1.3zM411.20,771.2h1.3v2.5h-1.3zM412.85,771.2h1.3v2.5h-1.3zM414.50,771.5h1.3v3h-1.3zM416.15,771.8h1.3v2.5h-1.3zM422.75,772.2h1.3v2.5h-1.3zM424.40,772.0h1.3v3h-1.3zM426.05,772.2h1.3v2.5h-1.3zM434.30,773.2h1.3v2.5h-1.3zM439.25,773.2h1.3v2.5h-1.3zM440.90,773.2h1.3v2.5h-1.3zM447.50,774.2h1.3v2.5h-1.3zM449.15,774.2h1.3v2.5h-1.3zM450.80,774.2h1.3v2.5h-1.3zM452.45,774.8h1.3v2.5h-1.3zM459.05,774.0h1.3v3h-1.3zM460.70,773.5h1.3v3h-1.3zM462.35,773.5h1.3v3h-1.3zM464.00,773.2h1.3v2.5h-1.3zM465.65,773.2h1.3v2.5h-1.3zM472.25,772.8h1.3v2.5h-1.3zM477.20,771.0h1.3v3h-1.3zM478.85,771.0h1.3v3h-1.3zM485.45,770.5h1.3v3h-1.3zM487.10,770.2h1.3v2.5h-1.3zM493.70,769.8h1.3v2.5h-1.3zM495.35,769.8h1.3v2.5h-1.3zM497.00,769.8h1.3v2.5h-1.3zM501.95,769.8h1.3v2.5h-1.3zM503.60,769.8h1.3v2.5h-1.3zM505.25,769.0h1.3v3h-1.3zM506.90,769.2h1.3v2.5h-1.3zM508.55,769.2h1.3v2.5h-1.3zM510.20,769.2h1.3v2.5h-1.3zM515.15,768.8h1.3v2.5h-1.3zM516.80,768.8h1.3v2.5h-1.3zM518.45,768.8h1.3v2.5h-1.3zM520.10,768.5h1.3v3h-1.3zM521.75,769.0h1.3v3h-1.3zM526.70,770.0h1.3v3h-1.3zM528.35,770.2h1.3v2.5h-1.3zM530.00,770.2h1.3v2.5h-1.3zM531.65,770.0h1.3v3h-1.3zM536.60,771.0h1.3v3h-1.3zM538.25,771.0h1.3v3h-1.3zM541.55,770.2h1.3v2.5h-1.3zM543.20,770.2h1.3v2.5h-1.3zM544.85,769.8h1.3v2.5h-1.3zM549.80,769.5h1.3v3h-1.3zM556.40,769.2h1.3v2.5h-1.3zM558.05,769.0h1.3v3h-1.3zM564.65,768.5h1.3v3h-1.3zM566.30,768.5h1.3v3h-1.3zM567.95,768.0h1.3v3h-1.3zM572.90,767.8h1.3v2.5h-1.3zM574.55,768.2h1.3v2.5h-1.3zM576.20,768.2h1.3v2.5h-1.3zM582.80,770.2h1.3v2.5h-1.3zM589.40,770.8h1.3v2.5h-1.3zM591.05,770.5h1.3v3h-1.3zM592.70,770.8h1.3v2.5h-1.3zM594.35,770.8h1.3v2.5h-1.3zM596.00,770.8h1.3v2.5h-1.3zM597.65,770.5h1.3v3h-1.3zM600.95,771.0h1.3v3h-1.3zM602.60,771.2h1.3v2.5h-1.3zM604.25,771.2h1.3v2.5h-1.3zM605.90,771.2h1.3v2.5h-1.3zM607.55,771.0h1.3v3h-1.3zM609.20,770.8h1.3v2.5h-1.3zM614.15,770.5h1.3v3h-1.3zM615.80,770.8h1.3v2.5h-1.3zM620.75,770.2h1.3v2.5h-1.3zM622.40,770.2h1.3v2.5h-1.3zM624.05,770.0h1.3v3h-1.3zM625.70,769.5h1.3v3h-1.3zM627.35,769.5h1.3v3h-1.3zM629.00,769.8h1.3v2.5h-1.3zM633.95,769.8h1.3v2.5h-1.3zM635.60,769.8h1.3v2.5h-1.3zM643.85,768.5h1.3v3h-1.3zM645.50,768.5h1.3v3h-1.3zM647.15,768.5h1.3v3h-1.3zM652.10,768.2h1.3v2.5h-1.3zM658.70,768.2h1.3v2.5h-1.3zM660.35,768.8h1.3v2.5h-1.3zM662.00,768.5h1.3v3h-1.3zM663.65,768.8h1.3v2.5h-1.3zM665.30,768.5h1.3v3h-1.3zM671.90,769.2h1.3v2.5h-1.3zM673.55,769.0h1.3v3h-1.3zM676.85,768.5h1.3v3h-1.3zM678.50,768.8h1.3v2.5h-1.3zM685.10,769.0h1.3v3h-1.3zM686.75,770.8h1.3v2.5h-1.3zM688.40,772.2h1.3v2.5h-1.3zM693.35,776.8h1.3v2.5h-1.3zM695.00,778.0h1.3v3h-1.3zM696.65,779.5h1.3v3h-1.3zM701.60,782.8h1.3v2.5h-1.3zM703.25,782.2h1.3v2.5h-1.3zM709.85,779.5h1.3v3h-1.3zM711.50,779.8h1.3v2.5h-1.3zM713.15,779.0h1.3v3h-1.3zM714.80,779.2h1.3v2.5h-1.3zM716.45,779.2h1.3v2.5h-1.3zM719.75,778.5h1.3v3h-1.3zM721.40,778.0h1.3v3h-1.3zM723.05,778.2h1.3v2.5h-1.3zM724.70,778.2h1.3v2.5h-1.3zM731.30,778.2h1.3v2.5h-1.3zM732.95,778.2h1.3v2.5h-1.3zM734.60,777.8h1.3v2.5h-1.3zM736.25,777.5h1.3v3h-1.3zM737.90,777.5h1.3v3h-1.3zM749.45,776.5h1.3v3h-1.3zM751.10,776.8h1.3v2.5h-1.3zM752.75,776.5h1.3v3h-1.3zM757.70,777.2h1.3v2.5h-1.3zM759.35,777.2h1.3v2.5h-1.3zM764.30,777.2h1.3v2.5h-1.3zM765.95,777.0h1.3v3h-1.3zM772.55,777.5h1.3v3h-1.3zM779.15,777.8h1.3v2.5h-1.3zM780.80,777.5h1.3v3h-1.3zM782.45,777.8h1.3v2.5h-1.3zM785.75,777.8h1.3v2.5h-1.3zM787.40,777.5h1.3v3h-1.3zM789.05,777.8h1.3v2.5h-1.3zM790.70,777.8h1.3v2.5h-1.3zM792.35,777.5h1.3v3h-1.3zM795.65,778.2h1.3v2.5h-1.3zM797.30,778.2h1.3v2.5h-1.3zM798.95,778.8h1.3v2.5h-1.3zM800.60,778.5h1.3v3h-1.3zM805.55,778.2h1.3v2.5h-1.3zM807.20,778.2h1.3v2.5h-1.3zM808.85,778.8h1.3v2.5h-1.3zM813.80,779.0h1.3v3h-1.3zM815.45,779.5h1.3v3h-1.3zM818.75,778.8h1.3v2.5h-1.3zM820.40,779.0h1.3v3h-1.3zM822.05,779.8h1.3v2.5h-1.3zM823.70,780.0h1.3v3h-1.3zM825.35,780.8h1.3v2.5h-1.3zM828.65,777.8h1.3v2.5h-1.3zM830.30,776.8h1.3v2.5h-1.3zM831.95,776.8h1.3v2.5h-1.3zM833.60,776.2h1.3v2.5h-1.3zM838.55,775.5h1.3v3h-1.3zM846.80,775.2h1.3v2.5h-1.3zM848.45,775.0h1.3v3h-1.3zM853.40,775.8h1.3v2.5h-1.3zM855.05,775.5h1.3v3h-1.3zM856.70,774.8h1.3v2.5h-1.3zM858.35,773.8h1.3v2.5h-1.3zM869.90,775.8h1.3v2.5h-1.3zM879.80,775.0h1.3v3h-1.3zM881.45,775.2h1.3v2.5h-1.3zM883.10,775.2h1.3v2.5h-1.3zM889.70,774.8h1.3v2.5h-1.3zM891.35,774.8h1.3v2.5h-1.3zM893.00,774.5h1.3v3h-1.3zM894.65,774.8h1.3v2.5h-1.3zM897.95,774.0h1.3v3h-1.3zM899.60,774.0h1.3v3h-1.3zM901.25,774.2h1.3v2.5h-1.3zM902.90,773.5h1.3v3h-1.3zM904.55,773.5h1.3v3h-1.3zM906.20,773.8h1.3v2.5h-1.3zM917.75,772.5h1.3v3h-1.3zM919.40,772.8h1.3v2.5h-1.3zM921.05,772.5h1.3v3h-1.3zM922.70,772.8h1.3v2.5h-1.3zM924.35,772.0h1.3v3h-1.3zM926.00,772.2h1.3v2.5h-1.3zM932.60,771.5h1.3v3h-1.3zM934.25,771.8h1.3v2.5h-1.3zM935.90,771.8h1.3v2.5h-1.3zM937.55,771.8h1.3v2.5h-1.3zM942.50,771.8h1.3v2.5h-1.3zM944.15,771.5h1.3v3h-1.3zM945.80,771.5h1.3v3h-1.3zM947.45,771.5h1.3v3h-1.3zM949.10,771.8h1.3v2.5h-1.3zM950.75,771.5h1.3v3h-1.3zM955.70,771.8h1.3v2.5h-1.3zM957.35,771.8h1.3v2.5h-1.3zM959.00,771.8h1.3v2.5h-1.3zM965.60,771.5h1.3v3h-1.3zM967.25,771.8h1.3v2.5h-1.3zM975.50,771.8h1.3v2.5h-1.3zM977.15,771.5h1.3v3h-1.3zM978.80,771.8h1.3v2.5h-1.3zM983.75,771.2h1.3v2.5h-1.3zM985.40,771.2h1.3v2.5h-1.3zM987.05,771.2h1.3v2.5h-1.3zM988.70,771.2h1.3v2.5h-1.3zM995.30,771.2h1.3v2.5h-1.3zM996.95,771.0h1.3v3h-1.3zM998.60,771.0h1.3v3h-1.3zM1000.25,771.2h1.3v2.5h-1.3zM1003.55,770.8h1.3v2.5h-1.3zM1005.20,770.8h1.3v2.5h-1.3zM1006.85,770.8h1.3v2.5h-1.3zM1008.50,770.8h1.3v2.5h-1.3zM1015.10,771.0h1.3v3h-1.3zM1023.35,770.8h1.3v2.5h-1.3zM1025.00,770.0h1.3v3h-1.3zM1026.65,770.2h1.3v2.5h-1.3zM1028.30,770.0h1.3v3h-1.3zM1029.95,770.0h1.3v3h-1.3zM1031.60,770.2h1.3v2.5h-1.3zM1036.55,770.2h1.3v2.5h-1.3zM1038.20,770.0h1.3v3h-1.3zM1039.85,770.2h1.3v2.5h-1.3zM1041.50,770.2h1.3v2.5h-1.3zM1043.15,770.0h1.3v3h-1.3zM1051.40,768.8h1.3v2.5h-1.3zM1053.05,768.5h1.3v3h-1.3zM1054.70,768.2h1.3v2.5h-1.3zM1056.35,768.0h1.3v3h-1.3zM1058.00,768.2h1.3v2.5h-1.3zM1062.95,767.8h1.3v2.5h-1.3zM1064.60,767.5h1.3v3h-1.3zM1069.55,768.8h1.3v2.5h-1.3zM1071.20,768.8h1.3v2.5h-1.3zM1072.85,768.8h1.3v2.5h-1.3zM1074.50,768.8h1.3v2.5h-1.3zM1079.45,768.2h1.3v2.5h-1.3zM1081.10,768.2h1.3v2.5h-1.3zM1082.75,768.2h1.3v2.5h-1.3zM1084.40,768.2h1.3v2.5h-1.3zM1086.05,769.0h1.3v3h-1.3zM1094.30,770.5h1.3v3h-1.3zM1095.95,770.2h1.3v2.5h-1.3zM1097.60,769.5h1.3v3h-1.3zM1102.55,768.8h1.3v2.5h-1.3zM1104.20,768.8h1.3v2.5h-1.3zM1110.80,768.8h1.3v2.5h-1.3zM1115.75,768.8h1.3v2.5h-1.3zM1117.40,768.5h1.3v3h-1.3zM1119.05,768.8h1.3v2.5h-1.3zM1128.95,767.5h1.3v3h-1.3zM1140.50,768.0h1.3v3h-1.3zM1142.15,769.2h1.3v2.5h-1.3zM1147.10,770.2h1.3v2.5h-1.3zM1152.05,770.0h1.3v3h-1.3zM1153.70,770.0h1.3v3h-1.3zM1158.65,770.0h1.3v3h-1.3zM1160.30,770.2h1.3v2.5h-1.3zM1165.25,770.2h1.3v2.5h-1.3zM1166.90,770.2h1.3v2.5h-1.3zM1168.55,770.2h1.3v2.5h-1.3zM1170.20,769.5h1.3v3h-1.3zM1176.80,768.8h1.3v2.5h-1.3zM1178.45,768.5h1.3v3h-1.3zM1180.10,768.5h1.3v3h-1.3zM1181.75,768.8h1.3v2.5h-1.3zM1183.40,768.8h1.3v2.5h-1.3zM1185.05,769.2h1.3v2.5h-1.3zM1188.35,769.8h1.3v2.5h-1.3zM1190.00,769.8h1.3v2.5h-1.3zM1199.90,771.5h1.3v3h-1.3zM1201.55,772.2h1.3v2.5h-1.3zM1203.20,772.2h1.3v2.5h-1.3zM1204.85,772.5h1.3v3h-1.3zM1206.50,772.5h1.3v3h-1.3zM1208.15,772.8h1.3v2.5h-1.3zM1214.75,772.8h1.3v2.5h-1.3zM1216.40,772.0h1.3v3h-1.3zM1218.05,771.8h1.3v2.5h-1.3zM1219.70,771.2h1.3v2.5h-1.3zM1223.00,770.0h1.3v3h-1.3zM1224.65,769.8h1.3v2.5h-1.3zM1226.30,769.8h1.3v2.5h-1.3zM1229.60,769.8h1.3v2.5h-1.3zM1231.25,769.8h1.3v2.5h-1.3zM1232.90,769.8h1.3v2.5h-1.3zM1234.55,769.5h1.3v3h-1.3zM1236.20,769.8h1.3v2.5h-1.3zM1239.50,769.0h1.3v3h-1.3zM1241.15,769.2h1.3v2.5h-1.3zM1242.80,769.0h1.3v3h-1.3zM1244.45,769.2h1.3v2.5h-1.3zM1254.35,767.2h1.3v2.5h-1.3zM1256.00,766.8h1.3v2.5h-1.3zM1257.65,766.8h1.3v2.5h-1.3zM1259.30,766.5h1.3v3h-1.3zM1260.95,766.8h1.3v2.5h-1.3zM1262.60,766.8h1.3v2.5h-1.3zM1267.55,767.2h1.3v2.5h-1.3zM1269.20,767.0h1.3v3h-1.3zM1270.85,767.2h1.3v2.5h-1.3zM1282.40,766.5h1.3v3h-1.3zM1287.35,766.8h1.3v2.5h-1.3zM1292.30,769.8h1.3v2.5h-1.3zM1293.95,770.0h1.3v3h-1.3zM1295.60,770.2h1.3v2.5h-1.3zM1297.25,769.8h1.3v2.5h-1.3zM1298.90,769.2h1.3v2.5h-1.3zM1302.20,768.0h1.3v3h-1.3zM1313.75,766.8h1.3v2.5h-1.3zM1317.05,767.0h1.3v3h-1.3zM1318.70,767.2h1.3v2.5h-1.3zM1320.35,767.8h1.3v2.5h-1.3zM1322.00,767.8h1.3v2.5h-1.3zM1323.65,767.8h1.3v2.5h-1.3zM1326.95,768.2h1.3v2.5h-1.3zM1328.60,768.2h1.3v2.5h-1.3zM1330.25,768.0h1.3v3h-1.3zM1338.50,768.5h1.3v3h-1.3zM1345.10,768.8h1.3v2.5h-1.3zM1346.75,768.8h1.3v2.5h-1.3zM1350.05,768.8h1.3v2.5h-1.3zM1351.70,768.8h1.3v2.5h-1.3zM1355.00,769.2h1.3v2.5h-1.3zM1356.65,769.0h1.3v3h-1.3zM1364.90,769.2h1.3v2.5h-1.3zM1366.55,769.2h1.3v2.5h-1.3zM1368.20,769.2h1.3v2.5h-1.3zM1373.15,769.2h1.3v2.5h-1.3zM1374.80,769.2h1.3v2.5h-1.3zM1383.05,769.2h1.3v2.5h-1.3zM1384.70,769.2h1.3v2.5h-1.3zM1386.35,769.0h1.3v3h-1.3zM1397.90,769.2h1.3v2.5h-1.3zM1399.55,769.0h1.3v3h-1.3zM1406.15,769.0h1.3v3h-1.3zM1407.80,769.2h1.3v2.5h-1.3zM1414.40,769.2h1.3v2.5h-1.3zM1416.05,769.0h1.3v3h-1.3zM1417.70,769.0h1.3v3h-1.3zM1419.35,769.2h1.3v2.5h-1.3zM1421.00,769.0h1.3v3h-1.3zM1422.65,769.2h1.3v2.5h-1.3zM1427.60,768.8h1.3v2.5h-1.3zM1429.25,768.5h1.3v3h-1.3zM1430.90,768.5h1.3v3h-1.3zM1432.55,768.8h1.3v2.5h-1.3zM1434.20,768.2h1.3v2.5h-1.3zM1435.85,768.2h1.3v2.5h-1.3zM1440.80,768.8h1.3v2.5h-1.3zM1442.45,768.8h1.3v2.5h-1.3zM1444.10,768.2h1.3v2.5h-1.3zM1445.75,768.2h1.3v2.5h-1.3zM1447.40,768.2h1.3v2.5h-1.3zM1457.30,768.0h1.3v3h-1.3zM1458.95,768.8h1.3v2.5h-1.3zM1467.20,768.5h1.3v3h-1.3zM1468.85,768.8h1.3v2.5h-1.3zM1470.50,768.5h1.3v3h-1.3zM1472.15,768.8h1.3v2.5h-1.3zM1477.10,768.5h1.3v3h-1.3zM1478.75,768.8h1.3v2.5h-1.3zM1480.40,768.8h1.3v2.5h-1.3zM1487.00,768.8h1.3v2.5h-1.3z" fill="#15878f"/>
<path d="M2.00,774.5h1.3v3h-1.3zM3.65,774.8h1.3v2.5h-1.3zM5.30,774.2h1.3v2.5h-1.3zM6.95,774.0h1.3v3h-1.3zM11.90,773.0h1.3v3h-1.3zM13.55,772.5h1.3v3h-1.3zM15.20,772.8h1.3v2.5h-1.3zM21.80,773.0h1.3v3h-1.3zM23.45,773.2h1.3v2.5h-1.3zM33.35,772.2h1.3v2.5h-1.3zM35.00,772.0h1.3v3h-1.3zM36.65,772.8h1.3v2.5h-1.3zM38.30,772.5h1.3v3h-1.3zM39.95,772.8h1.3v2.5h-1.3zM44.90,773.8h1.3v2.5h-1.3zM46.55,773.5h1.3v3h-1.3zM49.85,773.0h1.3v3h-1.3zM51.50,773.0h1.3v3h-1.3zM53.15,773.0h1.3v3h-1.3zM54.80,772.8h1.3v2.5h-1.3zM56.45,772.8h1.3v2.5h-1.3zM63.05,771.8h1.3v2.5h-1.3zM64.70,771.5h1.3v3h-1.3zM66.35,771.8h1.3v2.5h-1.3zM71.30,771.0h1.3v3h-1.3zM72.95,770.5h1.3v3h-1.3zM74.60,770.8h1.3v2.5h-1.3zM76.25,770.8h1.3v2.5h-1.3zM84.50,770.2h1.3v2.5h-1.3zM86.15,770.2h1.3v2.5h-1.3zM87.80,770.0h1.3v3h-1.3zM89.45,770.2h1.3v2.5h-1.3zM91.10,770.2h1.3v2.5h-1.3zM92.75,770.2h1.3v2.5h-1.3zM104.30,770.2h1.3v2.5h-1.3zM105.95,770.2h1.3v2.5h-1.3zM110.90,769.0h1.3v3h-1.3zM112.55,769.0h1.3v3h-1.3zM114.20,769.0h1.3v3h-1.3zM115.85,769.2h1.3v2.5h-1.3zM117.50,769.2h1.3v2.5h-1.3zM119.15,769.0h1.3v3h-1.3zM125.75,768.8h1.3v2.5h-1.3zM127.40,768.8h1.3v2.5h-1.3zM134.00,768.5h1.3v3h-1.3zM135.65,768.5h1.3v3h-1.3zM137.30,768.8h1.3v2.5h-1.3zM145.55,768.5h1.3v3h-1.3zM147.20,768.8h1.3v2.5h-1.3zM148.85,768.5h1.3v3h-1.3zM150.50,768.5h1.3v3h-1.3zM152.15,768.8h1.3v2.5h-1.3zM158.75,768.8h1.3v2.5h-1.3zM160.40,768.8h1.3v2.5h-1.3zM163.70,769.5h1.3v3h-1.3zM165.35,769.8h1.3v2.5h-1.3zM170.30,769.2h1.3v2.5h-1.3zM171.95,769.0h1.3v3h-1.3zM180.20,769.2h1.3v2.5h-1.3zM181.85,769.2h1.3v2.5h-1.3zM183.50,769.2h1.3v2.5h-1.3zM185.15,769.2h1.3v2.5h-1.3zM186.80,769.0h1.3v3h-1.3zM188.45,769.2h1.3v2.5h-1.3zM191.75,769.0h1.3v3h-1.3zM193.40,769.2h1.3v2.5h-1.3zM195.05,769.0h1.3v3h-1.3zM196.70,769.2h1.3v2.5h-1.3zM201.65,770.2h1.3v2.5h-1.3zM203.30,770.2h1.3v2.5h-1.3zM204.95,770.0h1.3v3h-1.3zM206.60,770.0h1.3v3h-1.3zM214.85,769.0h1.3v3h-1.3zM216.50,769.2h1.3v2.5h-1.3zM218.15,769.2h1.3v2.5h-1.3zM221.45,769.0h1.3v3h-1.3zM223.10,769.2h1.3v2.5h-1.3zM224.75,769.0h1.3v3h-1.3zM233.00,769.2h1.3v2.5h-1.3zM234.65,769.2h1.3v2.5h-1.3zM236.30,769.0h1.3v3h-1.3zM239.60,769.8h1.3v2.5h-1.3zM241.25,769.0h1.3v3h-1.3zM247.85,769.0h1.3v3h-1.3zM249.50,769.0h1.3v3h-1.3zM259.40,768.5h1.3v3h-1.3zM261.05,768.8h1.3v2.5h-1.3zM272.60,768.2h1.3v2.5h-1.3zM277.55,769.2h1.3v2.5h-1.3zM284.15,771.2h1.3v2.5h-1.3zM285.80,771.8h1.3v2.5h-1.3zM287.45,771.5h1.3v3h-1.3zM289.10,771.5h1.3v3h-1.3zM290.75,771.5h1.3v3h-1.3zM300.65,772.2h1.3v2.5h-1.3zM303.95,771.5h1.3v3h-1.3zM305.60,771.8h1.3v2.5h-1.3zM308.90,772.8h1.3v2.5h-1.3zM310.55,772.5h1.3v3h-1.3zM312.20,772.2h1.3v2.5h-1.3zM313.85,771.8h1.3v2.5h-1.3zM315.50,771.8h1.3v2.5h-1.3zM317.15,771.2h1.3v2.5h-1.3zM320.45,770.8h1.3v2.5h-1.3zM322.10,770.0h1.3v3h-1.3zM323.75,769.8h1.3v2.5h-1.3zM325.40,769.5h1.3v3h-1.3zM327.05,769.0h1.3v3h-1.3zM328.70,769.0h1.3v3h-1.3zM335.30,767.8h1.3v2.5h-1.3zM336.95,767.5h1.3v3h-1.3zM338.60,767.8h1.3v2.5h-1.3zM340.25,768.0h1.3v3h-1.3zM341.90,768.2h1.3v2.5h-1.3zM343.55,768.0h1.3v3h-1.3zM348.50,767.8h1.3v2.5h-1.3zM350.15,767.5h1.3v3h-1.3zM351.80,767.8h1.3v2.5h-1.3zM353.45,767.8h1.3v2.5h-1.3zM360.05,768.5h1.3v3h-1.3zM361.70,768.8h1.3v2.5h-1.3zM363.35,768.8h1.3v2.5h-1.3zM373.25,768.8h1.3v2.5h-1.3zM374.90,768.8h1.3v2.5h-1.3zM376.55,768.8h1.3v2.5h-1.3zM378.20,768.8h1.3v2.5h-1.3zM379.85,768.8h1.3v2.5h-1.3zM383.15,769.0h1.3v3h-1.3zM384.80,769.2h1.3v2.5h-1.3zM386.45,769.0h1.3v3h-1.3zM388.10,769.0h1.3v3h-1.3zM389.75,769.2h1.3v2.5h-1.3zM391.40,769.0h1.3v3h-1.3zM396.35,769.2h1.3v2.5h-1.3zM398.00,769.2h1.3v2.5h-1.3zM404.60,770.0h1.3v3h-1.3zM406.25,770.0h1.3v3h-1.3zM417.80,772.2h1.3v2.5h-1.3zM419.45,772.8h1.3v2.5h-1.3zM421.10,772.8h1.3v2.5h-1.3zM427.70,773.0h1.3v3h-1.3zM429.35,773.2h1.3v2.5h-1.3zM431.00,773.0h1.3v3h-1.3zM432.65,773.8h1.3v2.5h-1.3zM435.95,773.8h1.3v2.5h-1.3zM437.60,773.8h1.3v2.5h-1.3zM442.55,773.0h1.3v3h-1.3zM444.20,773.8h1.3v2.5h-1.3zM445.85,773.8h1.3v2.5h-1.3zM454.10,774.2h1.3v2.5h-1.3zM455.75,774.0h1.3v3h-1.3zM457.40,774.2h1.3v2.5h-1.3zM467.30,772.8h1.3v2.5h-1.3zM468.95,772.5h1.3v3h-1.3zM470.60,772.2h1.3v2.5h-1.3zM473.90,772.2h1.3v2.5h-1.3zM475.55,772.0h1.3v3h-1.3zM480.50,771.2h1.3v2.5h-1.3zM482.15,771.2h1.3v2.5h-1.3zM483.80,771.0h1.3v3h-1.3zM488.75,770.8h1.3v2.5h-1.3zM490.40,770.0h1.3v3h-1.3zM492.05,770.2h1.3v2.5h-1.3zM498.65,769.0h1.3v3h-1.3zM500.30,769.2h1.3v2.5h-1.3zM511.85,769.0h1.3v3h-1.3zM513.50,769.2h1.3v2.5h-1.3zM523.40,769.5h1.3v3h-1.3zM525.05,769.5h1.3v3h-1.3zM533.30,769.5h1.3v3h-1.3zM534.95,770.0h1.3v3h-1.3zM539.90,771.0h1.3v3h-1.3zM546.50,770.0h1.3v3h-1.3zM548.15,769.5h1.3v3h-1.3zM551.45,769.8h1.3v2.5h-1.3zM553.10,769.5h1.3v3h-1.3zM554.75,769.2h1.3v2.5h-1.3zM559.70,769.2h1.3v2.5h-1.3zM561.35,769.2h1.3v2.5h-1.3zM563.00,768.8h1.3v2.5h-1.3zM569.60,768.2h1.3v2.5h-1.3zM571.25,767.8h1.3v2.5h-1.3zM577.85,769.2h1.3v2.5h-1.3zM579.50,769.8h1.3v2.5h-1.3zM581.15,770.0h1.3v3h-1.3zM584.45,770.8h1.3v2.5h-1.3zM586.10,771.0h1.3v3h-1.3zM587.75,770.8h1.3v2.5h-1.3zM599.30,770.2h1.3v2.5h-1.3zM610.85,770.8h1.3v2.5h-1.3zM612.50,770.8h1.3v2.5h-1.3zM617.45,770.8h1.3v2.5h-1.3zM619.10,770.5h1.3v3h-1.3zM630.65,769.5h1.3v3h-1.3zM632.30,769.8h1.3v2.5h-1.3zM637.25,769.8h1.3v2.5h-1.3zM638.90,769.8h1.3v2.5h-1.3zM640.55,769.8h1.3v2.5h-1.3zM642.20,769.8h1.3v2.5h-1.3zM648.80,768.5h1.3v3h-1.3zM650.45,768.8h1.3v2.5h-1.3zM653.75,768.8h1.3v2.5h-1.3zM655.40,768.2h1.3v2.5h-1.3zM657.05,768.8h1.3v2.5h-1.3zM666.95,768.8h1.3v2.5h-1.3zM668.60,769.0h1.3v3h-1.3zM670.25,769.0h1.3v3h-1.3zM675.20,769.0h1.3v3h-1.3zM680.15,768.8h1.3v2.5h-1.3zM681.80,769.0h1.3v3h-1.3zM683.45,769.2h1.3v2.5h-1.3zM690.05,773.0h1.3v3h-1.3zM691.70,774.5h1.3v3h-1.3zM698.30,781.8h1.3v2.5h-1.3zM699.95,783.2h1.3v2.5h-1.3zM704.90,781.5h1.3v3h-1.3zM706.55,780.8h1.3v2.5h-1.3zM708.20,780.2h1.3v2.5h-1.3zM718.10,779.0h1.3v3h-1.3zM726.35,778.5h1.3v3h-1.3zM728.00,778.0h1.3v3h-1.3zM729.65,778.0h1.3v3h-1.3zM739.55,776.0h1.3v3h-1.3zM741.20,776.0h1.3v3h-1.3zM742.85,776.0h1.3v3h-1.3zM744.50,776.0h1.3v3h-1.3zM746.15,776.8h1.3v2.5h-1.3zM747.80,776.8h1.3v2.5h-1.3zM754.40,777.2h1.3v2.5h-1.3zM756.05,777.2h1.3v2.5h-1.3zM761.00,777.5h1.3v3h-1.3zM762.65,777.5h1.3v3h-1.3zM767.60,777.2h1.3v2.5h-1.3zM769.25,777.0h1.3v3h-1.3zM770.90,777.8h1.3v2.5h-1.3zM774.20,778.2h1.3v2.5h-1.3zM775.85,778.0h1.3v3h-1.3zM777.50,778.0h1.3v3h-1.3zM784.10,777.0h1.3v3h-1.3zM794.00,778.0h1.3v3h-1.3zM802.25,778.2h1.3v2.5h-1.3zM803.90,778.2h1.3v2.5h-1.3zM810.50,779.0h1.3v3h-1.3zM812.15,779.0h1.3v3h-1.3zM817.10,779.8h1.3v2.5h-1.3zM827.00,779.0h1.3v3h-1.3zM835.25,776.0h1.3v3h-1.3zM836.90,776.0h1.3v3h-1.3zM840.20,776.0h1.3v3h-1.3zM841.85,776.2h1.3v2.5h-1.3zM843.50,776.2h1.3v2.5h-1.3zM845.15,776.2h1.3v2.5h-1.3zM850.10,775.8h1.3v2.5h-1.3zM851.75,775.5h1.3v3h-1.3zM860.00,772.5h1.3v3h-1.3zM861.65,773.0h1.3v3h-1.3zM863.30,773.8h1.3v2.5h-1.3zM864.95,774.2h1.3v2.5h-1.3zM866.60,774.8h1.3v2.5h-1.3zM868.25,775.0h1.3v3h-1.3zM871.55,775.2h1.3v2.5h-1.3zM873.20,775.0h1.3v3h-1.3zM874.85,775.2h1.3v2.5h-1.3zM876.50,774.8h1.3v2.5h-1.3zM878.15,774.8h1.3v2.5h-1.3zM884.75,774.5h1.3v3h-1.3zM886.40,774.8h1.3v2.5h-1.3zM888.05,774.2h1.3v2.5h-1.3zM896.30,774.2h1.3v2.5h-1.3zM907.85,773.2h1.3v2.5h-1.3zM909.50,773.2h1.3v2.5h-1.3zM911.15,772.5h1.3v3h-1.3zM912.80,772.8h1.3v2.5h-1.3zM914.45,772.8h1.3v2.5h-1.3zM916.10,772.8h1.3v2.5h-1.3zM927.65,772.2h1.3v2.5h-1.3zM929.30,772.0h1.3v3h-1.3zM930.95,772.0h1.3v3h-1.3zM939.20,771.5h1.3v3h-1.3zM940.85,771.5h1.3v3h-1.3zM952.40,772.2h1.3v2.5h-1.3zM954.05,772.2h1.3v2.5h-1.3zM960.65,771.8h1.3v2.5h-1.3zM962.30,771.8h1.3v2.5h-1.3zM963.95,771.8h1.3v2.5h-1.3zM968.90,771.2h1.3v2.5h-1.3zM970.55,771.2h1.3v2.5h-1.3zM972.20,771.0h1.3v3h-1.3zM973.85,771.0h1.3v3h-1.3zM980.45,771.2h1.3v2.5h-1.3zM982.10,771.0h1.3v3h-1.3zM990.35,771.5h1.3v3h-1.3zM992.00,771.8h1.3v2.5h-1.3zM993.65,771.8h1.3v2.5h-1.3zM1001.90,770.5h1.3v3h-1.3zM1010.15,771.2h1.3v2.5h-1.3zM1011.80,771.0h1.3v3h-1.3zM1013.45,771.2h1.3v2.5h-1.3zM1016.75,770.2h1.3v2.5h-1.3zM1018.40,770.2h1.3v2.5h-1.3zM1020.05,770.2h1.3v2.5h-1.3zM1021.70,770.2h1.3v2.5h-1.3zM1033.25,770.0h1.3v3h-1.3zM1034.90,770.2h1.3v2.5h-1.3zM1044.80,769.2h1.3v2.5h-1.3zM1046.45,769.2h1.3v2.5h-1.3zM1048.10,769.2h1.3v2.5h-1.3zM1049.75,769.0h1.3v3h-1.3zM1059.65,768.2h1.3v2.5h-1.3zM1061.30,768.0h1.3v3h-1.3zM1066.25,768.0h1.3v3h-1.3zM1067.90,768.2h1.3v2.5h-1.3zM1076.15,768.2h1.3v2.5h-1.3zM1077.80,768.2h1.3v2.5h-1.3zM1087.70,770.0h1.3v3h-1.3zM1089.35,771.2h1.3v2.5h-1.3zM1091.00,771.5h1.3v3h-1.3zM1092.65,770.8h1.3v2.5h-1.3zM1099.25,769.2h1.3v2.5h-1.3zM1100.90,768.5h1.3v3h-1.3zM1105.85,769.2h1.3v2.5h-1.3zM1107.50,769.2h1.3v2.5h-1.3zM1109.15,769.0h1.3v3h-1.3zM1112.45,768.5h1.3v3h-1.3zM1114.10,768.5h1.3v3h-1.3zM1120.70,768.2h1.3v2.5h-1.3zM1122.35,768.0h1.3v3h-1.3zM1124.00,768.0h1.3v3h-1.3zM1125.65,768.0h1.3v3h-1.3zM1127.30,768.2h1.3v2.5h-1.3zM1130.60,768.0h1.3v3h-1.3zM1132.25,768.0h1.3v3h-1.3zM1133.90,768.2h1.3v2.5h-1.3zM1135.55,768.0h1.3v3h-1.3zM1137.20,768.0h1.3v3h-1.3zM1138.85,768.2h1.3v2.5h-1.3zM1143.80,770.5h1.3v3h-1.3zM1145.45,771.0h1.3v3h-1.3zM1148.75,771.2h1.3v2.5h-1.3zM1150.40,771.0h1.3v3h-1.3zM1155.35,770.2h1.3v2.5h-1.3zM1157.00,770.0h1.3v3h-1.3zM1161.95,770.8h1.3v2.5h-1.3zM1163.60,770.8h1.3v2.5h-1.3zM1171.85,770.0h1.3v3h-1.3zM1173.50,769.8h1.3v2.5h-1.3zM1175.15,769.8h1.3v2.5h-1.3zM1186.70,769.0h1.3v3h-1.3zM1191.65,769.8h1.3v2.5h-1.3zM1193.30,769.8h1.3v2.5h-1.3zM1194.95,770.0h1.3v3h-1.3zM1196.60,770.2h1.3v2.5h-1.3zM1198.25,770.8h1.3v2.5h-1.3zM1209.80,772.8h1.3v2.5h-1.3zM1211.45,772.5h1.3v3h-1.3zM1213.10,772.8h1.3v2.5h-1.3zM1221.35,770.5h1.3v3h-1.3zM1227.95,769.8h1.3v2.5h-1.3zM1237.85,769.2h1.3v2.5h-1.3zM1246.10,769.5h1.3v3h-1.3zM1247.75,769.2h1.3v2.5h-1.3zM1249.40,769.2h1.3v2.5h-1.3zM1251.05,769.2h1.3v2.5h-1.3zM1252.70,768.0h1.3v3h-1.3zM1264.25,767.2h1.3v2.5h-1.3zM1265.90,767.0h1.3v3h-1.3zM1272.50,766.5h1.3v3h-1.3zM1274.15,766.5h1.3v3h-1.3zM1275.80,766.8h1.3v2.5h-1.3zM1277.45,766.8h1.3v2.5h-1.3zM1279.10,766.8h1.3v2.5h-1.3zM1280.75,766.8h1.3v2.5h-1.3zM1284.05,766.2h1.3v2.5h-1.3zM1285.70,766.2h1.3v2.5h-1.3zM1289.00,766.0h1.3v3h-1.3zM1290.65,767.0h1.3v3h-1.3zM1300.55,769.0h1.3v3h-1.3zM1303.85,767.5h1.3v3h-1.3zM1305.50,767.2h1.3v2.5h-1.3zM1307.15,767.2h1.3v2.5h-1.3zM1308.80,766.8h1.3v2.5h-1.3zM1310.45,766.2h1.3v2.5h-1.3zM1312.10,766.8h1.3v2.5h-1.3zM1315.40,766.5h1.3v3h-1.3zM1325.30,767.2h1.3v2.5h-1.3zM1331.90,768.0h1.3v3h-1.3zM1333.55,768.0h1.3v3h-1.3zM1335.20,768.0h1.3v3h-1.3zM1336.85,768.0h1.3v3h-1.3zM1340.15,768.2h1.3v2.5h-1.3zM1341.80,768.8h1.3v2.5h-1.3zM1343.45,768.5h1.3v3h-1.3zM1348.40,768.2h1.3v2.5h-1.3zM1353.35,768.8h1.3v2.5h-1.3zM1358.30,768.5h1.3v3h-1.3zM1359.95,769.2h1.3v2.5h-1.3zM1361.60,769.0h1.3v3h-1.3zM1363.25,769.2h1.3v2.5h-1.3zM1369.85,769.8h1.3v2.5h-1.3zM1371.50,769.5h1.3v3h-1.3zM1376.45,769.8h1.3v2.5h-1.3zM1378.10,769.8h1.3v2.5h-1.3zM1379.75,769.8h1.3v2.5h-1.3zM1381.40,769.8h1.3v2.5h-1.3zM1388.00,770.0h1.3v3h-1.3zM1389.65,769.8h1.3v2.5h-1.3zM1391.30,769.5h1.3v3h-1.3zM1392.95,769.8h1.3v2.5h-1.3zM1394.60,769.5h1.3v3h-1.3zM1396.25,769.5h1.3v3h-1.3zM1401.20,769.8h1.3v2.5h-1.3zM1402.85,769.5h1.3v3h-1.3zM1404.50,769.8h1.3v2.5h-1.3zM1409.45,769.8h1.3v2.5h-1.3zM1411.10,769.8h1.3v2.5h-1.3zM1412.75,769.8h1.3v2.5h-1.3zM1424.30,769.2h1.3v2.5h-1.3zM1425.95,769.2h1.3v2.5h-1.3zM1437.50,768.0h1.3v3h-1.3zM1439.15,768.2h1.3v2.5h-1.3zM1449.05,767.5h1.3v3h-1.3zM1450.70,767.8h1.3v2.5h-1.3zM1452.35,767.5h1.3v3h-1.3zM1454.00,768.2h1.3v2.5h-1.3zM1455.65,768.0h1.3v3h-1.3zM1460.60,768.5h1.3v3h-1.3zM1462.25,768.8h1.3v2.5h-1.3zM1463.90,768.5h1.3v3h-1.3zM1465.55,768.5h1.3v3h-1.3zM1473.80,768.8h1.3v2.5h-1.3zM1475.45,768.5h1.3v3h-1.3zM1482.05,769.0h1.3v3h-1.3zM1483.70,769.0h1.3v3h-1.3zM1485.35,769.2h1.3v2.5h-1.3z" fill="#bb3a48"/>
<rect x="1450.6" y="755" width="2" height="41" fill="#999"/>
<rect x="1449.0" y="763.5" width="5.2" height="24.5" rx="2.4" fill="#999"/>
<rect x="1488" y="755" width="2" height="41" fill="#999"/>
<rect x="1486.4" y="763.5" width="5.2" height="24.5" rx="2.4" fill="#999"/>
<rect x="2.5" y="757.5" width="14.5" height="14.5" fill="#fff"/>
<path d="M6.6000000000000005,761.5999999999999 L13.0,768.0 M13.0,761.5999999999999 L6.6000000000000005,768.0" stroke="#8f8f8f" stroke-width="2.4" stroke-linecap="round" fill="none"/>
<path d="M1500,816.5 L1492.5,824 M1500,819.5 L1495.5,824 M1500,822.5 L1498.5,824" stroke="#555" stroke-width="1.2"/>
</svg>
</body></html>
